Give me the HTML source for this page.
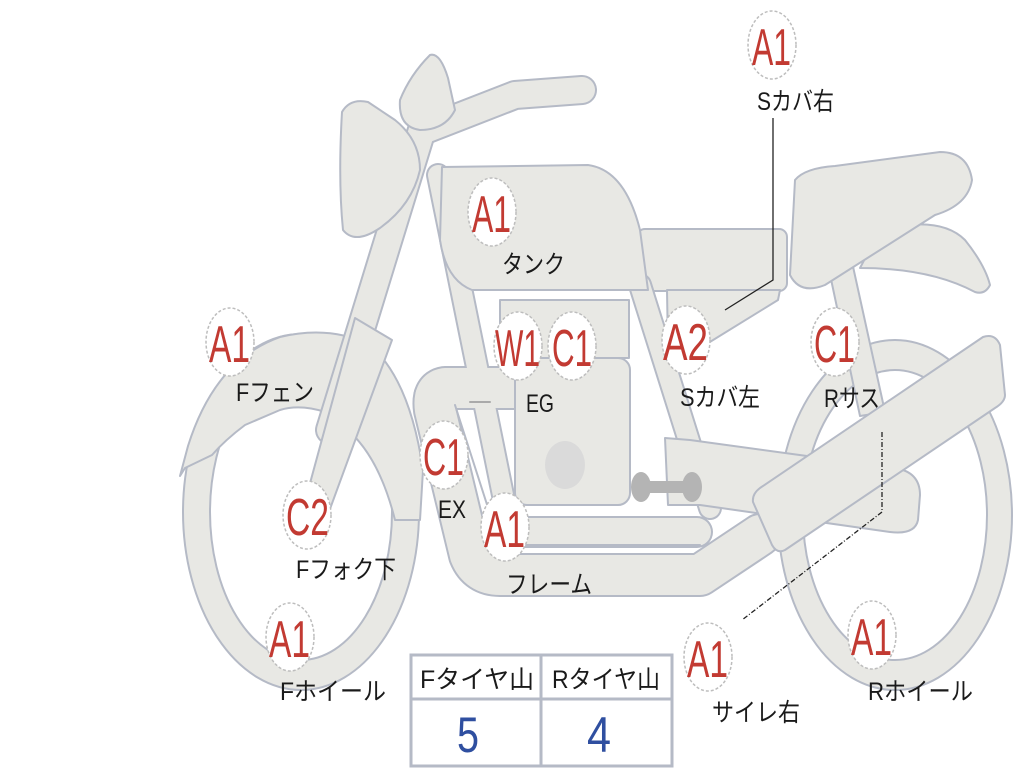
<!DOCTYPE html>
<html><head><meta charset="utf-8"><style>
html,body{margin:0;padding:0;background:#fff;}
svg{display:block;}
.s{fill:#e8e8e4;stroke:#b5bac6;stroke-width:2;stroke-linejoin:round;}
.lb{fill:#fff;stroke:#bdbdbd;stroke-width:1.5;stroke-dasharray:3 2;}
.r{fill:#c23a32;font-family:"Liberation Sans",sans-serif;font-size:52px;}
.j{fill:#1a1a1a;font-family:"Liberation Sans","Noto Sans CJK JP",sans-serif;font-size:25px;}
</style></head><body>
<svg width="1024" height="768" viewBox="0 0 1024 768" xmlns="http://www.w3.org/2000/svg">
<path class="s" fill-rule="evenodd" d="M183,512 A118,178 0 1,0 419,512 A118,178 0 1,0 183,512 Z M210,512 A91,148 0 1,0 392,512 A91,148 0 1,0 210,512 Z"/>
<path class="s" fill-rule="evenodd" d="M778,515 A117,175 0 1,0 1012,515 A117,175 0 1,0 778,515 Z M803,515 A92,145 0 1,0 987,515 A92,145 0 1,0 803,515 Z"/>
<path class="s" d="M180,476 L188,446 Q215,360 280,337 Q330,325 370,345 Q410,380 423,470 L420,520 L395,520 Q380,460 350,432 L325,412 Q300,404 280,410 L245,425 Q225,440 212,455 L185,468 Z"/>
<path class="s" d="M828,265 L852,262 L885,412 L860,416 Z"/>
<path class="s" d="M880,230 Q940,215 965,240 Q985,265 990,285 Q985,295 975,292 Q930,268 860,268 Z"/>
<path class="s" d="M795,180 Q805,168 835,166 L940,152 Q968,152 972,180 Q968,205 935,215 L825,285 Q800,295 790,275 Z"/>
<rect class="s" x="637" y="229" width="150" height="62" rx="8"/>
<path class="s" d="M667,290 L780,290 L778,300 L705,345 L668,350 Z"/>
<g fill="none" stroke-linecap="round" stroke-linejoin="round">
<g stroke="#b5bac6">
<path d="M430,395 L515,388" stroke-width="33"/>
<path d="M438,175 L505,505" stroke-width="24"/>
<path d="M640,285 L710,508" stroke-width="24"/>
<path d="M512,532 L697,532" stroke-width="32"/>
<path d="M515,388 L445,388 Q432,390 435,410 L470,555 Q478,575 500,575 L700,575 L760,535" stroke-width="44"/>
<path d="M330,430 L425,120" stroke-width="30"/>
<path d="M425,130 L515,95 L582,90" stroke-width="30"/>
</g>
<g stroke="#e8e8e4">
<path d="M430,395 L515,388" stroke-width="29"/>
<path d="M438,175 L505,505" stroke-width="20"/>
<path d="M640,285 L710,508" stroke-width="20"/>
<path d="M515,388 L445,388 Q432,390 435,410 L470,555 Q478,575 500,575 L700,575 L760,535" stroke-width="40"/>
<path d="M512,532 L697,532" stroke-width="28"/>
<path d="M330,430 L425,120" stroke-width="26"/>
<path d="M425,130 L515,95 L582,90" stroke-width="26"/>
</g>
<path d="M455,405 L500,545 L700,545" stroke="#b5bac6" stroke-width="2"/>
<path d="M470,402 L490,402" stroke="#aaa" stroke-width="2"/>
</g>
<path class="s" d="M355,318 L392,340 L323,528 L300,520 Z"/>
<path class="s" d="M342,112 Q350,98 368,102 L395,120 Q420,140 420,170 Q412,205 380,228 Q355,245 343,230 Q338,180 342,112 Z"/>
<path class="s" d="M430,55 Q440,52 448,78 L455,110 Q445,130 420,130 Q398,127 400,100 Q410,75 430,55 Z"/>
<path class="s" d="M442,167 L588,165 Q625,170 640,230 L648,290 L472,290 Q446,280 440,240 Z"/>
<rect class="s" x="500" y="300" width="129" height="58"/>
<rect class="s" x="515" y="358" width="115" height="147" rx="12"/>
<ellipse cx="565" cy="465" rx="20" ry="24" fill="#dadada"/>
<path class="s" d="M665,438 L690,440 L895,468 Q920,472 920,495 L918,520 Q915,535 890,532 L700,505 L668,505 Z"/>
<g fill="#b4b4b4"><ellipse cx="641" cy="487" rx="10" ry="15"/><ellipse cx="692" cy="487" rx="10" ry="15"/><rect x="640" y="481" width="52" height="12"/></g>
<path class="s" d="M760,488 L983,337 Q995,333 1000,345 L1005,395 Q1005,402 995,408 L785,550 Q777,554 772,545 L753,502 Q752,494 760,488 Z"/>
<g fill="none" stroke="#222" stroke-width="1.3">
<path d="M773,118 L773,280 L725,310"/>
<path d="M882,432 L882,512 L742,620" stroke-dasharray="5 2 1 2"/>
</g>
<g fill="#fff" stroke="#b5bac6" stroke-width="3">
<rect x="411" y="655" width="261" height="111"/>
<line x1="411" y1="699" x2="672" y2="699"/>
<line x1="541" y1="655" x2="541" y2="766"/>
</g>
<text class="j" x="420" y="688" font-size="27" textLength="114" lengthAdjust="spacingAndGlyphs">Fタイヤ山</text>
<text class="j" x="552" y="688" font-size="27" textLength="108" lengthAdjust="spacingAndGlyphs">Rタイヤ山</text>
<text x="468" y="752" font-family="Liberation Sans,sans-serif" font-size="50" fill="#2f4fa0" text-anchor="middle" textLength="22" lengthAdjust="spacingAndGlyphs">5</text>
<text x="599" y="752" font-family="Liberation Sans,sans-serif" font-size="50" fill="#2f4fa0" text-anchor="middle" textLength="24" lengthAdjust="spacingAndGlyphs">4</text>
<g>
<ellipse class="lb" cx="772" cy="45" rx="24" ry="34"/><text class="r" x="752" y="65" textLength="39" lengthAdjust="spacingAndGlyphs">A1</text>
<text class="j" x="757" y="110" textLength="77" lengthAdjust="spacingAndGlyphs">Sカバ右</text>
<ellipse class="lb" cx="492" cy="212" rx="24" ry="34"/><text class="r" x="472" y="232" textLength="39" lengthAdjust="spacingAndGlyphs">A1</text>
<text class="j" x="502" y="273" textLength="63" lengthAdjust="spacingAndGlyphs">タンク</text>
<ellipse class="lb" cx="230" cy="342" rx="24" ry="34"/><text class="r" x="209" y="362" textLength="41" lengthAdjust="spacingAndGlyphs">A1</text>
<text class="j" x="236" y="401" textLength="78" lengthAdjust="spacingAndGlyphs">Fフェン</text>
<ellipse class="lb" cx="518" cy="346" rx="24" ry="34"/><text class="r" x="495" y="366" textLength="45" lengthAdjust="spacingAndGlyphs">W1</text>
<ellipse class="lb" cx="572" cy="346" rx="24" ry="34"/><text class="r" x="552" y="366" textLength="40" lengthAdjust="spacingAndGlyphs">C1</text>
<text class="j" x="526" y="412" textLength="28" lengthAdjust="spacingAndGlyphs">EG</text>
<ellipse class="lb" cx="686" cy="340" rx="24" ry="34"/><text class="r" x="663" y="360" textLength="45" lengthAdjust="spacingAndGlyphs">A2</text>
<text class="j" x="680" y="406" textLength="80" lengthAdjust="spacingAndGlyphs">Sカバ左</text>
<ellipse class="lb" cx="835" cy="342" rx="24" ry="34"/><text class="r" x="814" y="362" textLength="41" lengthAdjust="spacingAndGlyphs">C1</text>
<text class="j" x="824" y="407" textLength="56" lengthAdjust="spacingAndGlyphs">Rサス</text>
<ellipse class="lb" cx="444" cy="455" rx="24" ry="34"/><text class="r" x="423" y="475" textLength="41" lengthAdjust="spacingAndGlyphs">C1</text>
<text class="j" x="438" y="518" textLength="28" lengthAdjust="spacingAndGlyphs">EX</text>
<ellipse class="lb" cx="307" cy="515" rx="24" ry="34"/><text class="r" x="286" y="535" textLength="43" lengthAdjust="spacingAndGlyphs">C2</text>
<text class="j" x="296" y="578" textLength="100" lengthAdjust="spacingAndGlyphs">Fフォク下</text>
<ellipse class="lb" cx="505" cy="527" rx="24" ry="34"/><text class="r" x="484" y="547" textLength="41" lengthAdjust="spacingAndGlyphs">A1</text>
<text class="j" x="506" y="593" textLength="86" lengthAdjust="spacingAndGlyphs">フレーム</text>
<ellipse class="lb" cx="290" cy="637" rx="24" ry="34"/><text class="r" x="269" y="657" textLength="41" lengthAdjust="spacingAndGlyphs">A1</text>
<text class="j" x="280" y="700" textLength="106" lengthAdjust="spacingAndGlyphs">Fホイール</text>
<ellipse class="lb" cx="708" cy="657" rx="24" ry="34"/><text class="r" x="687" y="677" textLength="41" lengthAdjust="spacingAndGlyphs">A1</text>
<text class="j" x="712" y="721" textLength="88" lengthAdjust="spacingAndGlyphs">サイレ右</text>
<ellipse class="lb" cx="872" cy="635" rx="24" ry="34"/><text class="r" x="851" y="655" textLength="41" lengthAdjust="spacingAndGlyphs">A1</text>
<text class="j" x="868" y="700" textLength="105" lengthAdjust="spacingAndGlyphs">Rホイール</text>
</g>
</svg>
</body></html>
